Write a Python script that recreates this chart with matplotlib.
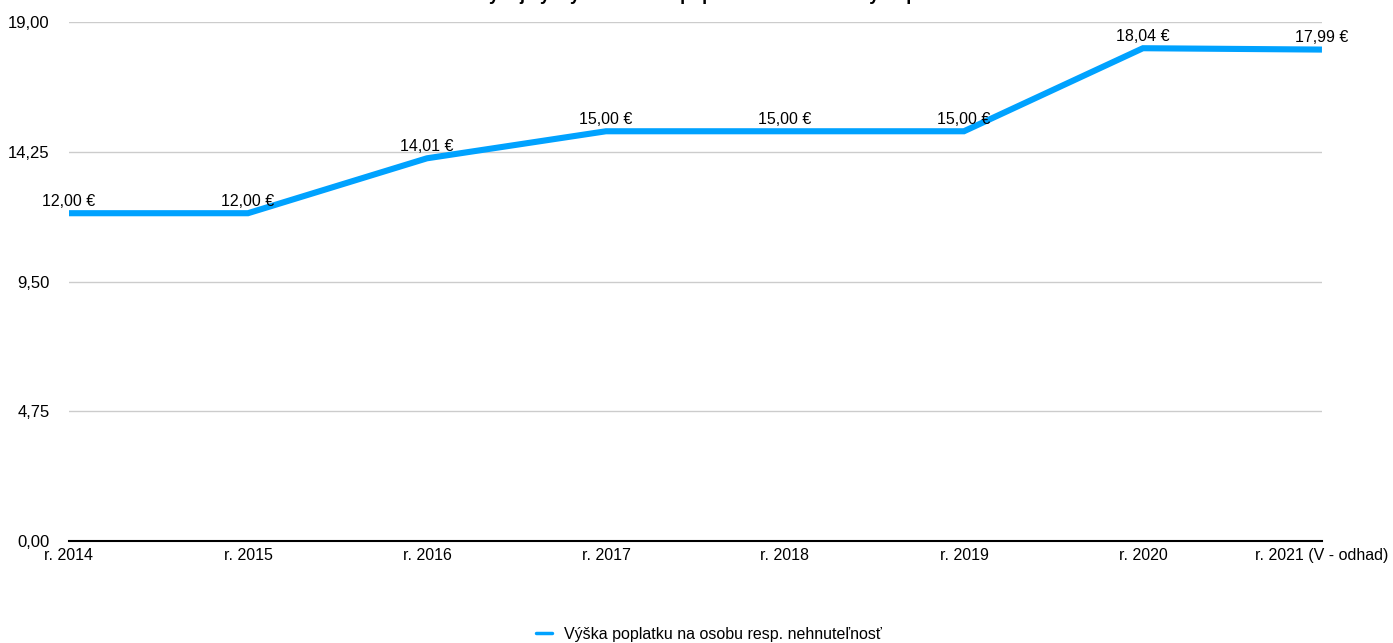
import numpy as np
import matplotlib.pyplot as plt
from matplotlib.lines import Line2D
from matplotlib.ticker import FuncFormatter

plt.rcParams['font.family'] = ['Liberation Sans', 'DejaVu Sans']

roky = ["r. 2014", "r. 2015", "r. 2016", "r. 2017", "r. 2018", "r. 2019", "r. 2020", "r. 2021 (V - odhad)"]
poplatok = [12.00, 12.00, 14.01, 15.00, 15.00, 15.00, 18.04, 17.99]
y_ticks = [0, 4.75, 9.5, 14.25, 19]
nazov = "Vývoj výšky miestneho poplatku za komunálny odpad"
seria = "Výška poplatku na osobu resp. nehnuteľnosť"

fig = plt.figure(figsize=(13.93, 6.43), dpi=100)
ax = fig.add_axes([0.0495, 0.1586, 0.8995, 0.8072])

x = np.arange(len(roky))
ax.plot(x, poplatok, color='#00a2ff', lw=4.4, solid_capstyle='butt',
        solid_joinstyle='miter', zorder=3)

for xi, v in zip(x, poplatok):
    ax.annotate("{:.2f} €".format(v).replace(".", ","), (xi, v), xytext=(0, 3),
                textcoords='offset points', ha='center', va='bottom', fontsize=11.5, zorder=4)

ax.set_xlim(0, len(roky) - 1)
ax.set_ylim(0, 19)
ax.set_xticks(x)
ax.set_xticklabels(roky, fontsize=11.5)
ax.set_yticks(y_ticks)
ax.yaxis.set_major_formatter(FuncFormatter(lambda v, p: "{:.2f}".format(v).replace(".", ",")))
ax.tick_params(axis='y', length=0, pad=14, labelsize=12)
ax.tick_params(axis='x', length=0, pad=5)
ax.grid(axis='y', color='#cccccc', lw=1)
ax.set_axisbelow(True)
for s in ['top', 'right', 'left']:
    ax.spines[s].set_visible(False)
ax.spines['bottom'].set_color('black')
ax.spines['bottom'].set_linewidth(1.5)
ax.spines['bottom'].set_zorder(5)

fig.text(0.508, 1.0, nazov, ha='center', va='baseline', fontsize=13, fontweight='bold')

handle = Line2D([], [], color='#00a2ff', lw=2.5, solid_capstyle='round')
fig.legend(handles=[handle], labels=[seria], loc='lower center', bbox_to_anchor=(0.509, -0.008),
           borderaxespad=0.0, frameon=False, fontsize=11.5, handlelength=1.0, handletextpad=0.8)

fig.savefig("out.png", dpi=100)
